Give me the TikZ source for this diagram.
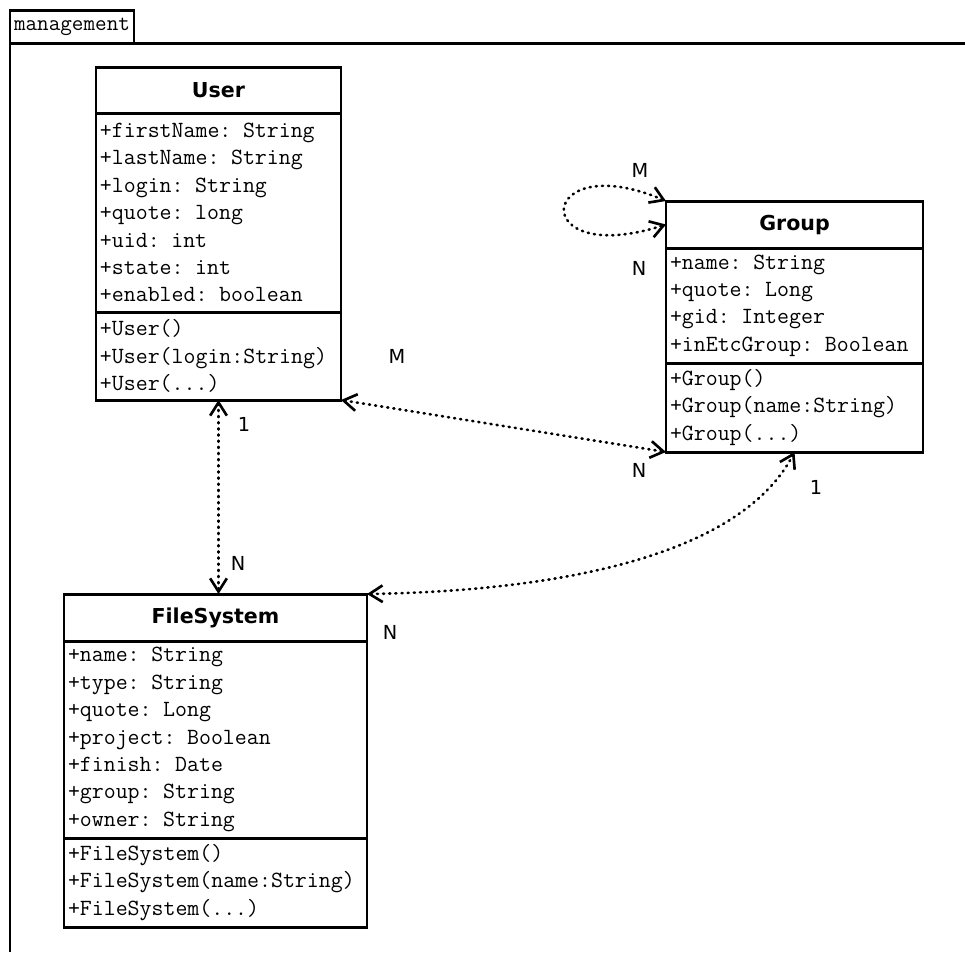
\documentclass[tikz,border=0pt]{standalone}
\usepackage{fontspec}
\setsansfont{DejaVu Sans}
\usetikzlibrary{arrows.meta}

\tikzset{
  marco/.style={line width=1.7pt},
  titulo/.style={draw, line width=1.7pt, outer sep=0pt, anchor=north west, inner sep=0pt,
    font=\sffamily\bfseries\fontsize{11.7}{14}\selectfont},
  bloque/.style={draw, line width=1.7pt, outer sep=0pt, anchor=north, inner xsep=0.08cm,
    inner ysep=0pt, align=left, font=\ttfamily\fontsize{13.2}{15.6}\selectfont},
  relacion/.style={line width=1.5pt, dash pattern=on 0.6pt off 2.9pt, line cap=round,
    >={Straight Barb[length=7.5pt,width=9.5pt,line width=1.5pt]}, <->},
  mult/.style={font=\sffamily\fontsize{11}{13}\selectfont, inner sep=0pt}
}

\begin{document}
\begin{tikzpicture}
            \useasboundingbox (0,0) rectangle (19.3,-19.04);

            % Paquete
            \node[draw, marco, outer sep=0pt, anchor=south west, minimum width=2.48cm, minimum height=0.66cm,
                  inner sep=0pt, font=\ttfamily\fontsize{12.8}{14}\selectfont] (paquete) at (0.2,-0.86) {management};
            \draw[marco] (19.3,-0.86) -- (paquete.south west) -- (0.2,-19.04);

            % Clase User
            \node[titulo, minimum width=4.9cm, minimum height=0.92cm] (user) at (1.92,-1.34) {User};
            \node[bloque, text width=4.74cm, minimum height=3.98cm] (userattr) at (user.south)
                {+firstName: String\\+lastName: String\\+login: String\\+quote: long\\+uid: int\\+state: int\\+enabled: boolean};
            \node[bloque, text width=4.74cm, minimum height=1.76cm] (usermet) at (userattr.south)
                {+User()\\+User(login:String)\\+User(...)};

            % Clase Group
            \node[titulo, minimum width=5.14cm, minimum height=0.94cm] (group) at (13.32,-4.02) {Group};
            \node[bloque, text width=4.98cm, minimum height=2.3cm] (groupattr) at (group.south)
                {+name: String\\+quote: Long\\+gid: Integer\\+inEtcGroup: Boolean};
            \node[bloque, text width=4.98cm, minimum height=1.78cm] (groupmet) at (groupattr.south)
                {+Group()\\+Group(name:String)\\+Group(...)};

            % Clase FileSystem
            \node[titulo, minimum width=6.06cm, minimum height=0.94cm] (fs) at (1.28,-11.88) {FileSystem};
            \node[bloque, text width=5.9cm, minimum height=3.94cm] (fsattr) at (fs.south)
                {+name: String\\+type: String\\+quote: Long\\+project: Boolean\\+finish: Date\\+group: String\\+owner: String};
            \node[bloque, text width=5.9cm, minimum height=1.78cm] (fsmet) at (fsattr.south)
                {+FileSystem()\\+FileSystem(name:String)\\+FileSystem(...)};

            % Relaciones
            \draw[relacion] (usermet.south east) -- (groupmet.south west);
            \draw[relacion] (usermet.south) -- (usermet.south |- fs.north);
            \draw[relacion] (fs.north east) .. controls +(3.1,0.05) and +(-1.2,-2.3) .. (groupmet.south);
            \draw[relacion] (group.north west) .. controls +(-2.6,1.1) and +(-2.8,-0.9) .. (group.west);

            % Multiplicidades
            \node[mult] (mug) at (7.94,-7.12) {M};
            \node[mult] (nug) at (12.78,-9.4) {N};
            \node[mult] (uuf) at (4.88,-8.48) {1};
            \node[mult] (nuf) at (4.76,-11.26) {N};
            \node[mult] (ugf) at (16.32,-9.74) {1};
            \node[mult] (ngf) at (7.8,-12.64) {N};
            \node[mult] (mgg) at (12.8,-3.4) {M};
            \node[mult] (ngg) at (12.78,-5.36) {N};
        \end{tikzpicture}
\end{document}
